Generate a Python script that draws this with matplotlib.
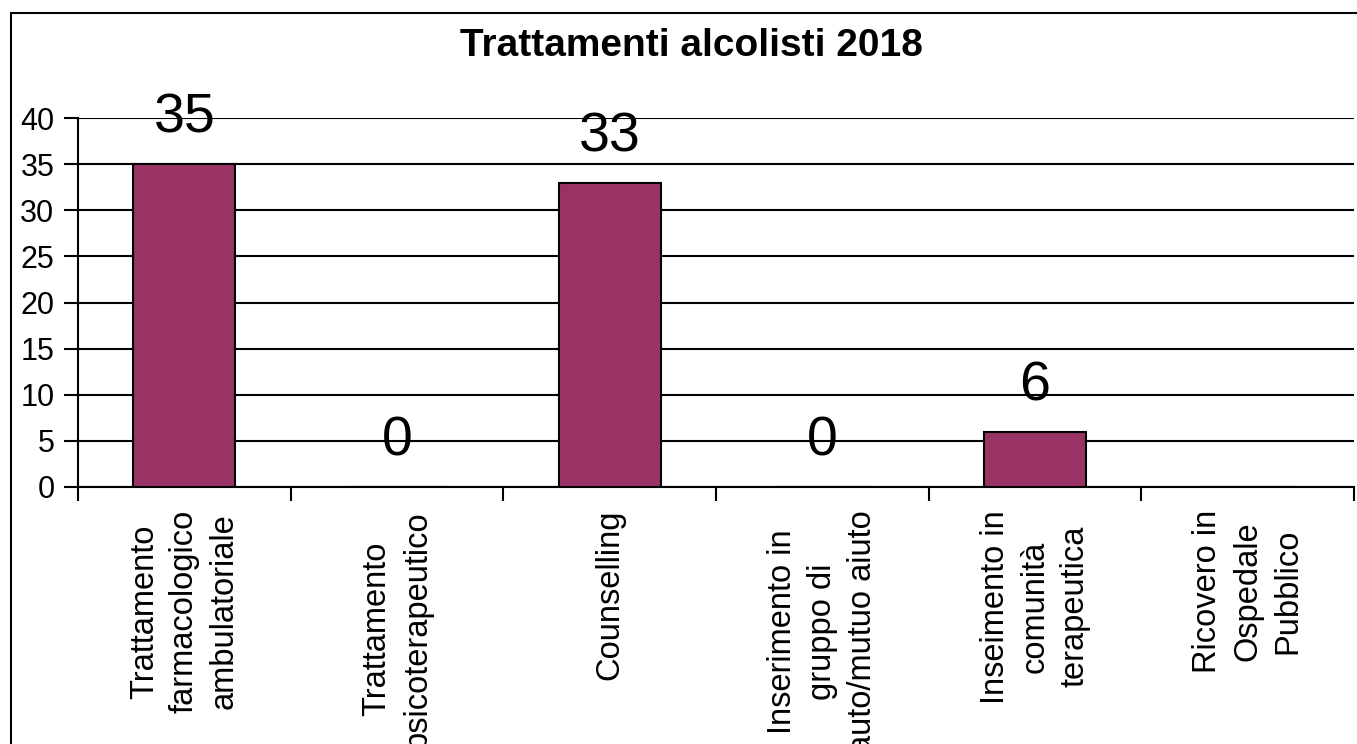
import numpy as np
import matplotlib.pyplot as plt
from matplotlib.patches import Rectangle

plt.rcParams['font.family'] = ['Liberation Sans', 'DejaVu Sans']

# dati
categorie = ["Trattamento\nfarmacologico\nambulatoriale",
             "Trattamento\npsicoterapeutico",
             "Counselling",
             "Inserimento in\ngruppo di\nauto/mutuo aiuto",
             "Inseimento in\ncomunità\nterapeutica",
             "Ricovero in\nOspedale\nPubblico"]
valori = [35, 0, 33, 0, 6, None]
y_ticks = [0, 5, 10, 15, 20, 25, 30, 35, 40]

fig = plt.figure(figsize=(13.57, 7.44), dpi=100)
ax = fig.add_axes([78 / 1357, 1 - 487 / 744, (1354 - 78) / 1357, (487 - 118) / 744])

x = np.arange(len(categorie))
altezze = [v if v is not None else 0 for v in valori]
ax.bar(x, altezze, width=0.48, color='#993366', edgecolor='black', linewidth=1.5, zorder=3)

# etichette dei valori
for xi, v in zip(x, valori):
    if v is None:
        continue
    ax.annotate(str(v), (xi, v), xytext=(0, 14), textcoords='offset points',
                ha='center', va='bottom', fontsize=40, zorder=4)

ax.set_xlim(-0.5, len(categorie) - 0.5)
ax.set_ylim(0, 40)
ax.set_yticks(y_ticks)
ax.set_yticklabels([str(t) for t in y_ticks], fontsize=22)
ax.yaxis.grid(True, color='black', linewidth=1.5)
ax.set_axisbelow(True)

ax.set_xticks(x)
ax.set_xticklabels(categorie, rotation=90, fontsize=23.5, ha='center', va='top',
                   multialignment='center', linespacing=1.37)
ax.set_xticks(np.arange(-0.5, len(categorie)), minor=True)
ax.tick_params(axis='x', which='major', length=0, pad=16.5)
ax.tick_params(axis='x', which='minor', length=10, width=1.5, direction='out')
ax.tick_params(axis='y', length=10, width=1.5, direction='out', pad=7)

for s in ['top', 'right']:
    ax.spines[s].set_visible(False)
for s in ['left', 'bottom']:
    ax.spines[s].set_linewidth(1.5)

# titolo
fig.text(691 / 1357, 1 - 46 / 744, "Trattamenti alcolisti 2018", ha='center', va='center',
         fontsize=28, fontweight='bold')

# bordo del grafico
fig.patches.append(Rectangle((11 / 1357, -0.1), 1.2, 1 - 13 / 744 + 0.1,
                             transform=fig.transFigure, fill=False,
                             edgecolor='black', linewidth=1.5))

fig.savefig('out.png', dpi=100)
